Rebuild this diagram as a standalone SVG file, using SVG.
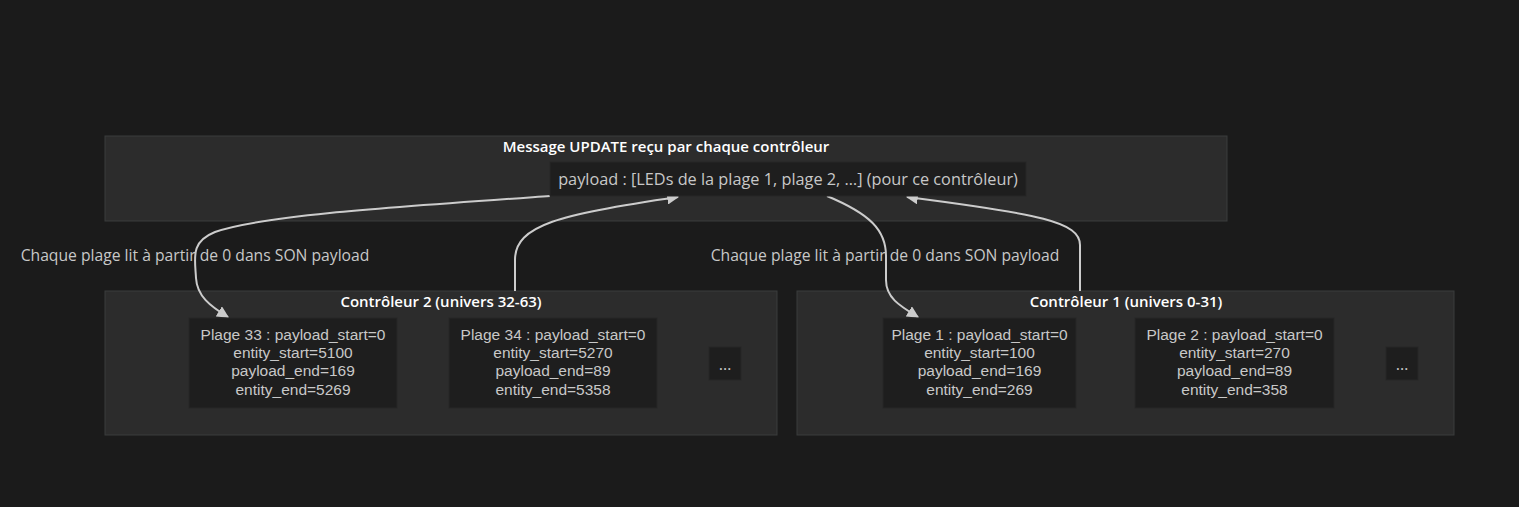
<svg xmlns="http://www.w3.org/2000/svg" width="1519" height="507" viewBox="0 0 1519 507">
<style>
text{font-family:"Open Sans","Noto Sans","DejaVu Sans",sans-serif;font-size:15px;text-anchor:middle;dominant-baseline:central}
.cl{fill:#2c2c2c;stroke:#3a3d3d;stroke-width:1}
.ct{fill:#ffffff;font-weight:600}
.nd{fill:#1e1e1e;stroke:#262626;stroke-width:1}
.nt{fill:#c8c8c8;font-size:16.3px}
.ml{fill:#c8c8c8;font-family:"Liberation Sans",Arial,sans-serif;font-size:15.5px}
.lb{fill:#c8c8c8;font-size:15.7px}
.ed{fill:none;stroke:#cccccc;stroke-width:2}
</style>
<defs>
<marker id="ah" viewBox="0 0 10 10" refX="9" refY="5" markerWidth="12" markerHeight="12" markerUnits="userSpaceOnUse" orient="auto-start-reverse">
<path d="M0,0 L10,5 L0,10 z" fill="#cccccc"/>
</marker>
</defs>
<rect width="1519" height="507" fill="#1b1b1b"/>
<g id="cluster-msg">
<rect class="cl" x="105" y="136" width="1122" height="85"/>
<text class="ct" x="666" y="146">Message UPDATE reçu par chaque contrôleur</text>
</g>
<g id="cluster-c2">
<rect class="cl" x="105" y="291" width="672" height="144"/>
<text class="ct" x="441" y="301">Contrôleur 2 (univers 32-63)</text>
</g>
<g id="cluster-c1">
<rect class="cl" x="797" y="291" width="657" height="144"/>
<text class="ct" x="1126" y="301">Contrôleur 1 (univers 0-31)</text>
</g>
<g id="edges">
<path class="ed" d="M550,196 C380,208 260,216 215,232 C190,242 195,258 196,278 C197,296 210,306 228,317" marker-end="url(#ah)"/>
<path class="ed" d="M515,291 L515,260 C515,225 560,214 678,197" marker-end="url(#ah)"/>
<path class="ed" d="M827,196 C870,214 886,230 886,256 L886,280 C886,298 900,306 918,317" marker-end="url(#ah)"/>
<path class="ed" d="M1080,291 L1080,245 C1080,222 1040,214 907,197" marker-end="url(#ah)"/>
<text class="lb" x="195" y="255">Chaque plage lit à partir de 0 dans SON payload</text>
<text class="lb" x="885" y="255">Chaque plage lit à partir de 0 dans SON payload</text>
</g>
<g id="payload">
<rect class="nd" x="550" y="162" width="476" height="34"/>
<text class="nt" x="788" y="179">payload : [LEDs de la plage 1, plage 2, …] (pour ce contrôleur)</text>
</g>
<g id="plage33">
<rect class="nd" x="189" y="318" width="208" height="90"/>
<text class="ml" x="293" y="334">Plage 33 : payload_start=0</text>
<text class="ml" x="293" y="352">entity_start=5100</text>
<text class="ml" x="293" y="370">payload_end=169</text>
<text class="ml" x="293" y="389">entity_end=5269</text>
</g>
<g id="plage34">
<rect class="nd" x="449" y="318" width="208" height="90"/>
<text class="ml" x="553" y="334">Plage 34 : payload_start=0</text>
<text class="ml" x="553" y="352">entity_start=5270</text>
<text class="ml" x="553" y="370">payload_end=89</text>
<text class="ml" x="553" y="389">entity_end=5358</text>
</g>
<g id="more2">
<rect class="nd" x="709" y="347" width="32" height="33"/>
<text class="nt" x="725" y="364">…</text>
</g>
<g id="plage1">
<rect class="nd" x="883" y="318" width="193" height="90"/>
<text class="ml" x="979.5" y="334">Plage 1 : payload_start=0</text>
<text class="ml" x="979.5" y="352">entity_start=100</text>
<text class="ml" x="979.5" y="370">payload_end=169</text>
<text class="ml" x="979.5" y="389">entity_end=269</text>
</g>
<g id="plage2">
<rect class="nd" x="1135" y="318" width="199" height="90"/>
<text class="ml" x="1234.5" y="334">Plage 2 : payload_start=0</text>
<text class="ml" x="1234.5" y="352">entity_start=270</text>
<text class="ml" x="1234.5" y="370">payload_end=89</text>
<text class="ml" x="1234.5" y="389">entity_end=358</text>
</g>
<g id="more1">
<rect class="nd" x="1386" y="347" width="32" height="33"/>
<text class="nt" x="1402" y="364">…</text>
</g>
</svg>
